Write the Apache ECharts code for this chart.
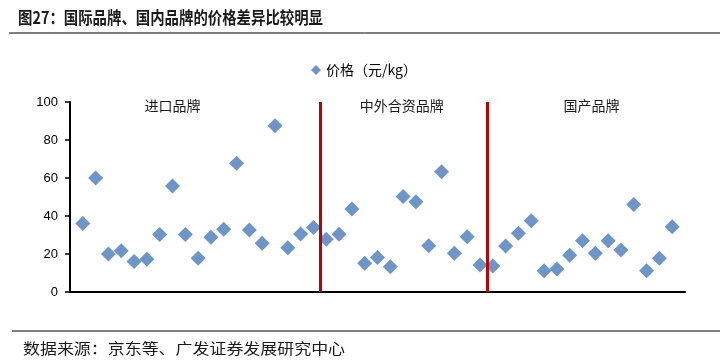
<!DOCTYPE html>
<html><head><meta charset="utf-8">
<script src="https://cdn.jsdelivr.net/npm/echarts@6/dist/echarts.min.js"></script>
<style>html,body{margin:0;padding:0;background:#fff}#c{width:728px;height:364px}</style>
</head><body><div id="c"></div>
<script>
// Data
const positions = [1,2,3,4,5,6,7,8,9,10,11,12,13,14,15,16,17,18,19,20,21,22,23,24,25,26,27,28,29,30,31,32,33,34,35,36,37,38,39,40,41,42,43,44,45,46,47];
const prices = [36,60,20,21.7,16,17.2,30.2,55.8,30.2,17.7,28.8,33,67.7,32.6,25.6,87.5,23.3,30.5,34,
  27.7,30.4,43.7,15.1,18.1,13.3,50.2,47.5,24.4,63.3,20.4,29.1,14.2,
  13.7,24.2,30.9,37.5,11.2,12.1,19.3,27,20.4,27,22.1,46.1,11.2,17.7,34.4];
const dividers = [19.5, 32.55];
const groupNames = ['进口品牌','中外合资品牌','国产品牌'];
const groupCenters = [8, 25.9, 40.7];
const yTicks = [0,20,40,60,80,100];
const seriesName = '价格（元/kg）';

const chart = echarts.init(document.getElementById('c'));
chart.setOption({
  animation:false,
  graphic:[
    {type:'text',x:18,y:9,scaleY:1.12,scaleX:0.96,style:{text:'图27：国际品牌、国内品牌的价格差异比较明显',font:'bold 15px "Noto Sans CJK SC"',fill:'#1a1a1a'}},
    {type:'line',shape:{x1:9,y1:33,x2:720,y2:33},style:{stroke:'#000',lineWidth:1}},
    {type:'line',shape:{x1:12,y1:331,x2:720,y2:331},style:{stroke:'#000',lineWidth:1}},
    {type:'text',x:23,y:341,scaleX:1.13,style:{text:'数据来源：京东等、广发证券发展研究中心',font:'15px "Noto Sans CJK SC"',fill:'#1a1a1a'}}
  ],
  legend:{top:58,left:'center',itemWidth:10,itemHeight:10,itemGap:4,
    textStyle:{fontFamily:'Noto Sans CJK SC',fontSize:14,color:'#000'},
    data:[{name:seriesName,icon:'diamond'}]},
  grid:{left:70,right:43,top:102,bottom:72},
  xAxis:{type:'value',min:0,max:48,axisLine:{show:true,lineStyle:{color:'#000',width:2}},
    axisTick:{show:false},axisLabel:{show:false},splitLine:{show:false}},
  yAxis:{type:'value',min:0,max:100,interval:20,
    axisLine:{show:true,lineStyle:{color:'#000',width:2}},
    axisTick:{show:true,length:5,lineStyle:{color:'#000',width:1.5}},
    axisLabel:{color:'#000',fontFamily:'Liberation Sans',fontSize:13,margin:12},
    splitLine:{show:false}},
  series:[{
    name:seriesName,type:'scatter',symbol:'diamond',symbolSize:15,
    itemStyle:{color:'#4a7bb9'},
    data:positions.map((p,i)=>[p,prices[i]]),
    markLine:{silent:true,symbol:['none','none'],label:{show:false},
      lineStyle:{color:'#c00000',width:3,type:'solid'},
      data:dividers.map(d=>({xAxis:d}))},
    markPoint:{symbol:'circle',symbolSize:1,itemStyle:{color:'transparent'},
      label:{show:true,position:'inside',color:'#1a1a1a',fontFamily:'Noto Sans CJK SC',fontSize:14},
      data:groupNames.map((n,i)=>({coord:[groupCenters[i],98],value:n,label:{formatter:n}}))}
  }]
});
</script></body></html>
